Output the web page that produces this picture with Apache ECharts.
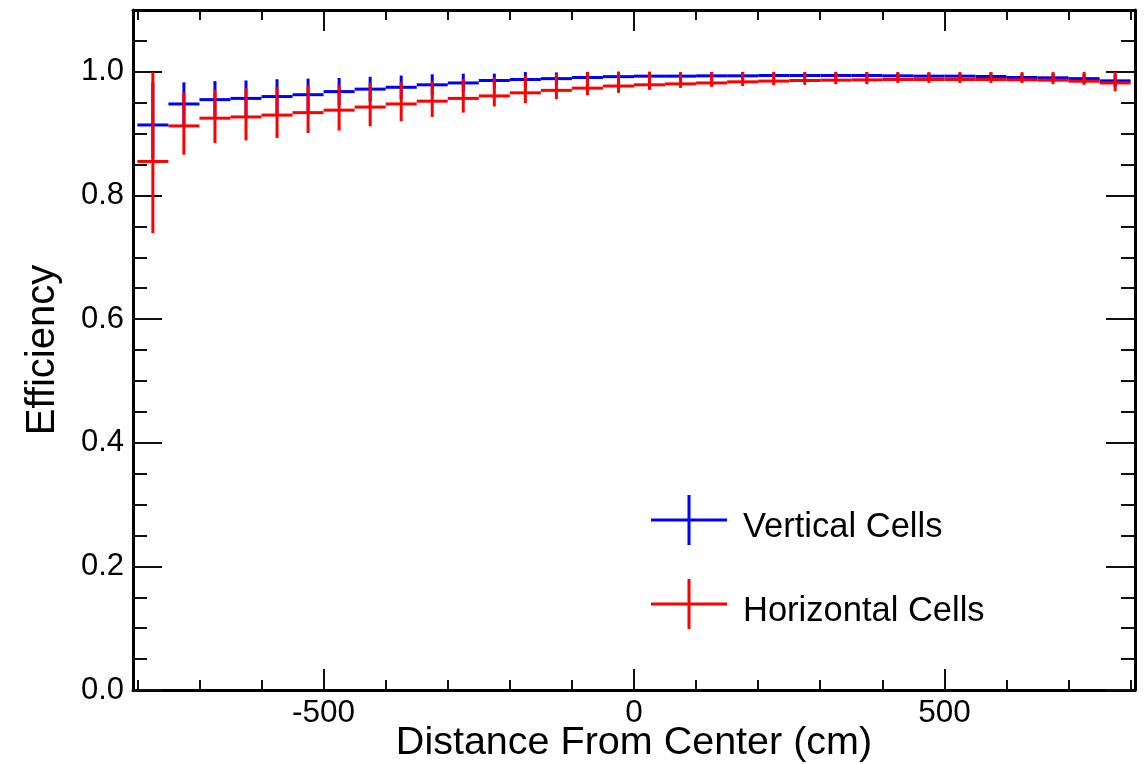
<!DOCTYPE html>
<html><head><meta charset="utf-8">
<script src="https://cdn.jsdelivr.net/npm/echarts@6/dist/echarts.min.js"></script>
<style>html,body{margin:0;padding:0;background:#fff}#c{width:1148px;height:764px}</style>
</head><body><div id="c"></div>
<script>
// ---- data ----
const binCenters = [-775,-725,-675,-625,-575,-525,-475,-425,-375,-325,-275,-225,-175,-125,-75,-25,
                    25,75,125,175,225,275,325,375,425,475,525,575,625,675,725,775];
const binHalfWidth = 25;

const verticalEff = [0.914,0.948,0.955,0.957,0.960,0.963,0.968,0.972,0.975,0.979,0.982,0.986,0.9876,0.989,0.9908,0.9922,
                     0.993,0.993,0.9935,0.9935,0.994,0.994,0.994,0.994,0.9935,0.993,0.993,0.9924,0.9908,0.9903,0.989,0.9854];
const verticalErrUp = [0.069,0.035,0.030,0.029,0.028,0.026,0.022,0.020,0.019,0.017,0.015,0.011,0.012,0.010,0.009,0.008,
                       0.007,0.006,0.006,0.006,0.005,0.005,0.005,0.005,0.005,0.005,0.005,0.006,0.006,0.007,0.008,0.010];
const verticalErrDown = [0.055,0.035,0.030,0.029,0.028,0.026,0.022,0.020,0.019,0.017,0.015,0.012,0.012,0.010,0.009,0.008,
                         0.007,0.006,0.006,0.006,0.005,0.005,0.005,0.005,0.005,0.005,0.005,0.006,0.006,0.007,0.008,0.010];

const horizontalEff = [0.855,0.9125,0.925,0.927,0.930,0.934,0.938,0.943,0.948,0.9525,0.957,0.961,0.966,0.970,0.9736,0.977,
                       0.979,0.9805,0.982,0.9838,0.985,0.986,0.9865,0.987,0.9876,0.9876,0.9876,0.9876,0.987,0.9865,0.9848,0.982];
const horizontalErrUp = [0.1445,0.0545,0.046,0.0465,0.045,0.044,0.041,0.039,0.035,0.0325,0.031,0.030,0.0275,0.027,0.026,0.023,
                         0.021,0.019,0.0175,0.016,0.0145,0.0135,0.013,0.0125,0.012,0.012,0.012,0.012,0.0125,0.013,0.015,0.018];
const horizontalErrDown = [0.116,0.0465,0.040,0.038,0.037,0.033,0.033,0.031,0.028,0.0255,0.023,0.017,0.0167,0.0143,0.0114,0.011,
                           0.0082,0.0065,0.0063,0.0068,0.0065,0.007,0.0065,0.007,0.0056,0.0056,0.0056,0.0056,0.005,0.0065,0.0058,0.0134];

const xMajorTicks = [-500, 0, 500];
const xMinorTicks = [-800,-700,-600,-400,-300,-200,-100,100,200,300,400,600,700,800];
const yMajorTicks = [0, 0.2, 0.4, 0.6, 0.8, 1.0];
const yMinorTicks = [0.05,0.1,0.15,0.25,0.3,0.35,0.45,0.5,0.55,0.65,0.7,0.75,0.85,0.9,0.95,1.05];

const seriesNames = ['Vertical Cells', 'Horizontal Cells'];
const xTitle = 'Distance From Center (cm)';
const yTitle = 'Efficiency';

// ---- chart ----
const FONT = '"Liberation Sans", Arial, Helvetica, sans-serif';
const chart = echarts.init(document.getElementById('c'), null, {renderer: 'canvas'});

function xAxisDef(pos, ticks, len, labels, line) {
  return {
    type: 'value', position: pos, min: -807, max: 807,
    axisLine: {show: line, onZero: false, lineStyle: {color: '#000', width: 3}},
    axisTick: {show: true, inside: true, length: len, customValues: ticks, lineStyle: {color: '#111', width: 2}},
    axisLabel: labels ? {show: true, customValues: ticks, fontSize: 31.5, fontFamily: FONT, color: '#000', margin: 7}
                      : {show: false},
    splitLine: {show: false}
  };
}
function yAxisDef(pos, ticks, len, labels, line) {
  return {
    type: 'value', position: pos, min: 0, max: 1.1,
    axisLine: {show: line, onZero: false, lineStyle: {color: '#000', width: 3}},
    axisTick: {show: true, inside: true, length: len, customValues: ticks, lineStyle: {color: '#111', width: 2}},
    axisLabel: labels ? {show: true, customValues: ticks, fontSize: 31, fontFamily: FONT, color: '#000', margin: 9,
                         formatter: v => Number(v).toFixed(1)}
                      : {show: false},
    splitLine: {show: false}
  };
}

function makeSeries(name, color, vals, up, down) {
  return {
    type: 'custom', name: name, xAxisIndex: 0, yAxisIndex: 0,
    itemStyle: {color: color},
    data: binCenters.map((c, i) => [c, vals[i], vals[i] - down[i], vals[i] + up[i]]),
    encode: {x: 0, y: [1, 2, 3]},
    renderItem: function (params, api) {
      const x = api.value(0), y = api.value(1), lo = api.value(2), hi = api.value(3);
      const a = api.coord([x - binHalfWidth, y]), b = api.coord([x + binHalfWidth, y]);
      const t = api.coord([x, hi]), bt = api.coord([x, lo]);
      return {type: 'group', children: [
        {type: 'line', shape: {x1: a[0], y1: a[1], x2: b[0], y2: b[1]}, style: {stroke: color, lineWidth: 3}},
        {type: 'line', shape: {x1: t[0], y1: t[1], x2: bt[0], y2: bt[1]}, style: {stroke: color, lineWidth: 3}}
      ]};
    }
  };
}

const xa0 = xAxisDef('bottom', xMajorTicks, 21, true, true);
xa0.name = xTitle; xa0.nameLocation = 'middle'; xa0.nameGap = 33; xa0.nameMoveOverlap = false;
xa0.nameTextStyle = {fontSize: 39.5, fontFamily: FONT, color: '#000'};
const ya0 = yAxisDef('left', yMajorTicks, 29, true, true);
ya0.name = yTitle; ya0.nameLocation = 'middle'; ya0.nameGap = 70; ya0.nameMoveOverlap = false;
ya0.nameTextStyle = {fontSize: 40, fontFamily: FONT, color: '#000'};

const crossIcon = 'path://M0,23.5L76,23.5L76,26.5L0,26.5Z M36.5,0L39.5,0L39.5,50L36.5,50Z';

chart.setOption({
  animation: false,
  backgroundColor: '#fff',
  grid: {left: 133, right: 13, top: 10, bottom: 74, containLabel: false, outerBoundsMode: 'none'},
  xAxis: [
    xa0,
    xAxisDef('bottom', xMinorTicks, 10, false, false),
    xAxisDef('top', xMajorTicks, 21, false, true),
    xAxisDef('top', xMinorTicks, 10, false, false)
  ],
  yAxis: [
    ya0,
    yAxisDef('left', yMinorTicks, 14, false, false),
    yAxisDef('right', yMajorTicks, 29, false, true),
    yAxisDef('right', yMinorTicks, 14, false, false)
  ],
  legend: {
    data: seriesNames, orient: 'vertical', left: 651, top: 495, padding: 0,
    itemWidth: 76, itemHeight: 50, itemGap: 34, icon: crossIcon,
    formatter: name => '{t|' + name + '}',
    textStyle: {
      fontSize: 34.5, fontFamily: FONT, color: '#000',
      rich: {t: {fontSize: 34.5, fontFamily: FONT, color: '#000', padding: [14, 0, 0, 11]}}
    },
    selectedMode: false
  },
  series: [
    makeSeries(seriesNames[0], '#0000ff', verticalEff, verticalErrUp, verticalErrDown),
    makeSeries(seriesNames[1], '#ff0000', horizontalEff, horizontalErrUp, horizontalErrDown)
  ]
});
</script>
</body></html>
